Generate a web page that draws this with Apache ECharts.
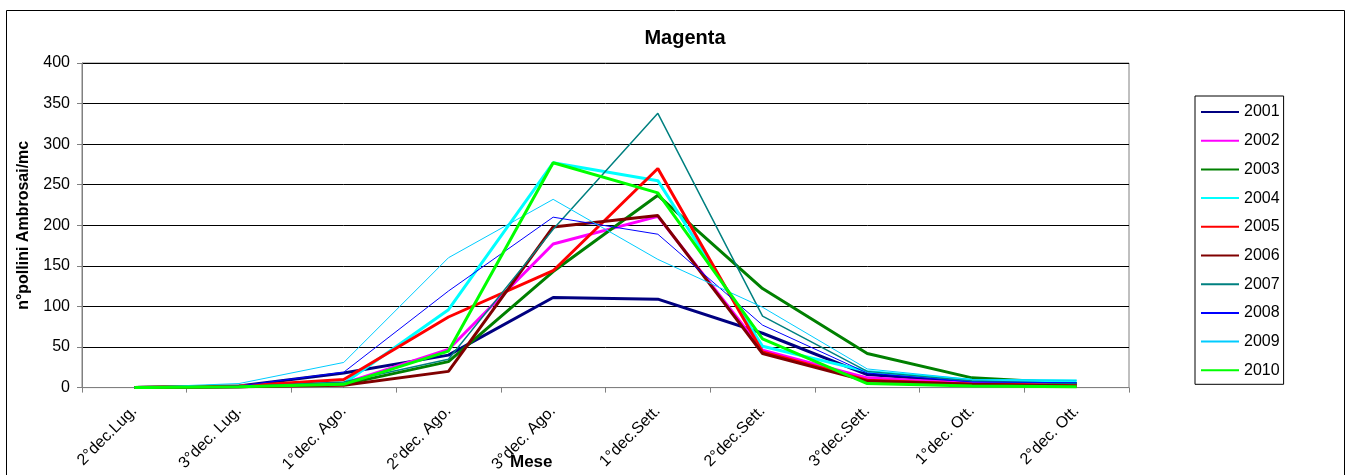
<!DOCTYPE html>
<html>
<head>
<meta charset="utf-8">
<script src="https://cdn.jsdelivr.net/npm/echarts@6/dist/echarts.min.js"></script>
<style>
html,body{margin:0;padding:0;background:#fff;}
#chart{width:1351px;height:475px;}
</style>
</head>
<body>
<div id="chart"></div>
<script>
var categories = ["2°dec.Lug.", "3°dec. Lug.", "1°dec. Ago.", "2°dec. Ago.", "3°dec. Ago.", "1°dec.Sett.", "2°dec.Sett.", "3°dec.Sett.", "1°dec. Ott.", "2°dec. Ott."];
var years = ["2001","2002","2003","2004","2005","2006","2007","2008","2009","2010"];
var v2001 = [0, 2, 18, 40, 111, 109, 67, 16, 7, 5];
var v2002 = [0, 1, 5, 47, 177, 211, 46, 12, 5, 4];
var v2003 = [0, 1, 4, 32, 143, 237, 122, 42, 12, 5];
var v2004 = [0, 2, 5, 96, 277, 255, 51, 20, 9, 8];
var v2005 = [0, 2, 10, 87, 144, 270, 44, 9, 4, 3];
var v2006 = [0, 1, 3, 20, 198, 212, 42, 8, 4, 2];
var v2007 = [0, 1, 7, 35, 195, 338, 88, 20, 8, 5];
var v2008 = [0, 2, 19, 119, 210, 189, 77, 18, 7, 6];
var v2009 = [0, 5, 31, 160, 232, 158, 99, 23, 10, 9];
var v2010 = [0, 1, 4, 45, 277, 240, 60, 5, 2, 1];
var yTicks = [0, 50, 100, 150, 200, 250, 300, 350, 400];

var values = [v2001, v2002, v2003, v2004, v2005, v2006, v2007, v2008, v2009, v2010];
var colors = ["#000080", "#FF00FF", "#008000", "#00FFFF", "#FF0000", "#800000", "#008080", "#0000FF", "#00CCFF", "#00FF00"];
var widths = [3, 3, 3, 3, 3, 3, 1.5, 1, 1, 3];

var FONT = "Liberation Sans, Arial, sans-serif";
var chart = echarts.init(document.getElementById('chart'));
chart.setOption({
  animation: false,
  backgroundColor: '#fff',
  title: {
    text: 'Magenta',
    left: 680, top: 23, textAlign: 'center',
    textStyle: {fontFamily: FONT, fontSize: 20, fontWeight: 'bold', color: '#000'}
  },
  graphic: [
    {type: 'rect', shape: {x: 6.5, y: 10.5, width: 1338, height: 520}, style: {fill: 'none', stroke: '#000', lineWidth: 1}, silent: true, z: -1},
    {type: 'text', left: 510, top: 454, style: {text: 'Mese', font: 'bold 17px ' + FONT, fill: '#000'}}
  ],
  legend: {
    orient: 'vertical',
    left: 1195, top: 96,
    data: years,
    itemWidth: 38, itemHeight: 14, itemGap: 12.7,
    padding: [8, 4, 6, 5],
    borderColor: '#000', borderWidth: 1,
    itemStyle: {opacity: 0},
    textStyle: {fontFamily: FONT, fontSize: 16, color: '#000'}
  },
  grid: {left: 82, top: 63, width: 1047, height: 327, show: true, borderColor: '#808080', borderWidth: 1, containLabel: false},
  xAxis: {
    type: 'category',
    data: categories,
    boundaryGap: true,
    axisLine: {lineStyle: {color: '#808080', width: 1}},
    axisTick: {show: true, length: 5, lineStyle: {color: '#808080'}},
    axisLabel: {rotate: 45, margin: 21, fontFamily: FONT, fontSize: 16, color: '#000'},
    splitLine: {show: false}
  },
  yAxis: {
    type: 'value',
    min: yTicks[0], max: yTicks[yTicks.length - 1], interval: 50,
    name: 'n°pollini Ambrosai/mc',
    nameLocation: 'middle', nameGap: 50,
    nameTextStyle: {fontFamily: FONT, fontSize: 16, fontWeight: 'bold', color: '#000'},
    axisLine: {show: true, lineStyle: {color: '#808080', width: 1}},
    axisTick: {show: true, length: 5, lineStyle: {color: '#808080'}},
    axisLabel: {margin: 12, fontFamily: FONT, fontSize: 16, color: '#000'},
    splitLine: {show: true, lineStyle: {color: '#000', width: 1}}
  },
  series: years.map(function (y, i) {
    return {
      name: y, type: 'line', data: values[i],
      symbol: 'none', showSymbol: false,
      color: colors[i],
      lineStyle: {color: colors[i], width: widths[i]},
      itemStyle: {color: colors[i]}
    };
  })
});
</script>
</body>
</html>
